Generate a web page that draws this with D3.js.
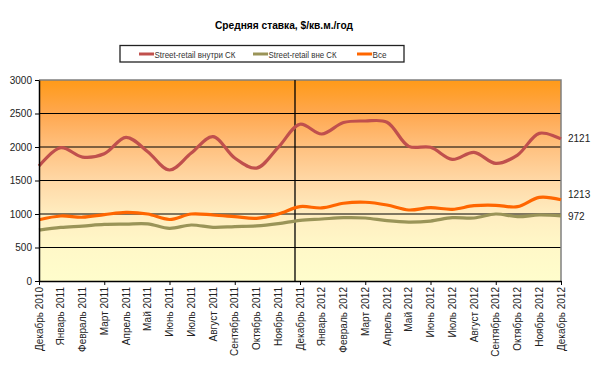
<!DOCTYPE html>
<html><head><meta charset="utf-8">
<script src="https://cdn.jsdelivr.net/npm/d3@7"></script>
<style>body{margin:0;background:#fff}svg{display:block;font-family:"Liberation Sans",Arial,sans-serif}</style>
</head><body><svg id="c" width="600" height="369"></svg>
<script>
const months = ["Декабрь 2010","Январь 2011","Февраль 2011","Март 2011","Апрель 2011","Май 2011","Июнь 2011","Июль 2011","Август 2011","Сентябрь 2011","Октябрь 2011","Ноябрь 2011","Декабрь 2011","Январь 2012","Февраль 2012","Март 2012","Апрель 2012","Май 2012","Июнь 2012","Июль 2012","Август 2012","Сентябрь 2012","Октябрь 2012","Ноябрь 2012","Декабрь 2012"];
const inside  = [1716,1990,1850,1900,2145,1930,1657,1910,2154,1835,1685,1995,2340,2194,2365,2388,2370,2010,1995,1815,1920,1755,1880,2204,2121];
const outside = [760,800,820,845,850,853,786,836,801,812,822,856,905,925,945,940,900,880,895,945,940,1000,960,985,972];
const allv    = [915,970,952,990,1025,1000,918,1000,985,960,935,1000,1110,1090,1160,1175,1134,1060,1094,1070,1124,1130,1109,1249,1213];
const yTicks = [0,500,1000,1500,2000,2500,3000];
const seriesNames = ["Street-retail внутри СК","Street-retail вне СК","Все"];
const title = "Средняя ставка, $/кв.м./год";
const dividerIndex = 11.77;

const colors = ["#C0504D","#9A9458","#FF6600"];
const series = [inside, outside, allv];

const L=39,R=561,T=80,B=281;
const svg = d3.select("#c");
const x = d3.scalePoint().domain(months).range([L,R]);
const y = d3.scaleLinear().domain([0,3000]).range([B,T]);
const step = x.step();

const defs = svg.append("defs");
const g = defs.append("linearGradient").attr("id","bg").attr("x1",0).attr("y1",0).attr("x2",0).attr("y2",1);
[[0,"#FF9A18"],[0.17,"#FFA850"],[0.33,"#FFC07E"],[0.5,"#FFD8A6"],[0.67,"#FFEDC0"],[0.83,"#FFF8C8"],[1,"#FFFDCC"]].forEach(s=>g.append("stop").attr("offset",s[0]).attr("stop-color",s[1]));

svg.append("rect").attr("x",L).attr("y",T).attr("width",R-L).attr("height",B-T).attr("fill","url(#bg)");

// gridlines
svg.append("g").selectAll("line").data(yTicks.filter(v=>v>0&&v<3000)).join("line")
  .attr("x1",L).attr("x2",R).attr("y1",d=>y(d)).attr("y2",d=>y(d)).attr("stroke","#000").attr("stroke-width",1.2);

// border
svg.append("path").attr("d",`M${L},${T}H${R}V${B}`).attr("fill","none").attr("stroke","#808080").attr("stroke-width",1.5);

// divider
const xd = L + dividerIndex*step;
svg.append("line").attr("x1",xd).attr("x2",xd).attr("y1",T).attr("y2",B).attr("stroke","#000").attr("stroke-width",1.3);

// lines
const line = d3.line().x((d,i)=>x(months[i])).y(d=>y(d)).curve(d3.curveCatmullRom.alpha(0.5));
series.forEach((s,k)=>{
  svg.append("path").attr("d",line(s)).attr("fill","none").attr("stroke",colors[k]).attr("stroke-width",3.2).attr("stroke-linejoin","round");
});

// axes
const yAxis = d3.axisLeft(y).tickValues(yTicks).tickSize(4).tickSizeOuter(0).tickFormat(d3.format("d"));
const ya = svg.append("g").attr("transform",`translate(${L},0)`).call(yAxis);
ya.select(".domain").attr("stroke","#000").attr("stroke-width",1.5);
ya.selectAll(".tick line").attr("stroke","#000");
ya.selectAll(".tick text").attr("font-size",10).attr("fill","#222").attr("font-family","Liberation Sans, Arial").attr("x",-7);

const xa = svg.append("g").attr("transform",`translate(0,${B})`).call(d3.axisBottom(x).tickValues(months.filter((m,i)=>i%3===0)).tickSize(4).tickSizeOuter(0).tickFormat(""));
xa.select(".domain").attr("stroke","#000").attr("stroke-width",1.5);
xa.selectAll(".tick line").attr("stroke","#000");

svg.append("g").selectAll("text").data(months).join("text")
  .attr("transform",d=>`translate(${x(d)+3.5},${B+6}) rotate(-90)`)
  .attr("text-anchor","end").attr("font-size",10).attr("fill","#222").text(d=>d);

// end labels
series.forEach((s,k)=>{
  const v = s[s.length-1];
  const dy = k===1 ? 4 : (k===2 ? -2 : 3.5);
  svg.append("text").attr("x",R+7).attr("y",y(v)+dy).attr("font-size",10).attr("fill","#222").text(v);
});

// title
svg.append("text").attr("x",215).attr("y",29).attr("font-size",11.5).attr("font-weight","bold").attr("fill","#000")
  .attr("textLength",138).attr("lengthAdjust","spacingAndGlyphs").text(title);

// legend
svg.append("rect").attr("x",120).attr("y",45.5).attr("width",284).attr("height",16.5).attr("fill","#fff").attr("stroke","#222").attr("stroke-width",1.3);
const lx = [139,253,357];
const lw = [81,68,14];
seriesNames.forEach((n,k)=>{
  svg.append("line").attr("x1",lx[k]).attr("x2",lx[k]+15).attr("y1",54).attr("y2",54).attr("stroke",colors[k]).attr("stroke-width",3);
  svg.append("text").attr("x",lx[k]+15.5).attr("y",57.5).attr("font-size",9.5).attr("fill","#333")
    .attr("textLength",lw[k]).attr("lengthAdjust","spacingAndGlyphs").text(n);
});
</script></body></html>
